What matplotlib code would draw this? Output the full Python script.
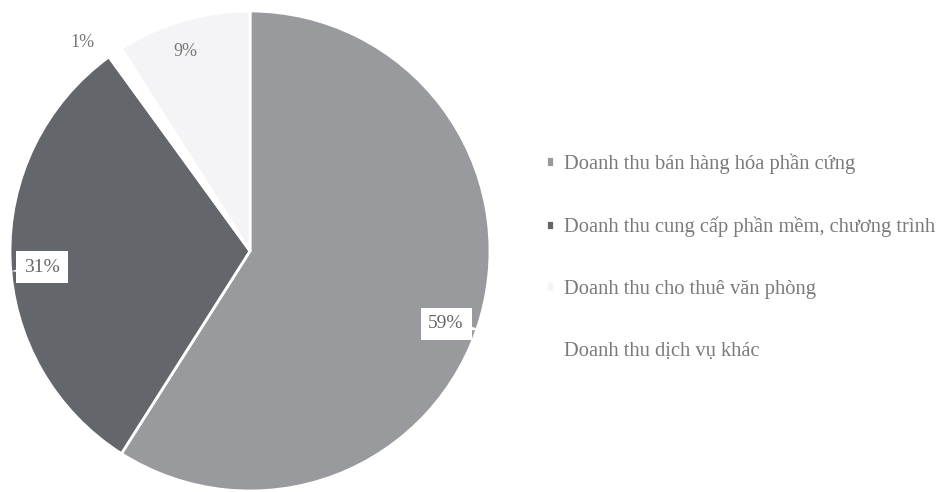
import matplotlib
matplotlib.use("Agg")
import matplotlib.pyplot as plt

categories = [
    "Doanh thu bán hàng hóa phần cứng",
    "Doanh thu cung cấp phần mềm, chương trình",
    "Doanh thu cho thuê văn phòng",
    "Doanh thu dịch vụ khác",
]
shares = [59, 31, 9, 1]
pct_labels = ["59%", "31%", "9%", "1%"]
colors = ["#999a9e", "#63666a", "#f4f4f6", "#ffffff"]
# order the slices are drawn clockwise from 12 o'clock
draw_order = [0, 1, 3, 2]

W, H = 944, 492
fig = plt.figure(figsize=(W / 100, H / 100), dpi=100)
fig.patch.set_facecolor("white")

# pie axes: centre ~ (250, 251) px, radius ~240 px
cx, cy, r = 250, 251, 240
ax = fig.add_axes([(cx - r) / W, 1 - (cy + r) / H, 2 * r / W, 2 * r / H])
wedges, _ = ax.pie([shares[i] for i in draw_order],
                   colors=[colors[i] for i in draw_order],
                   startangle=90, counterclock=False, radius=1.0,
                   wedgeprops=dict(edgecolor="white", linewidth=2.0))
ax.set_xlim(-1, 1)
ax.set_ylim(-1, 1)
ax.set_aspect("equal")
ax.axis("off")
handles = [None] * 4
for w, i in zip(wedges, draw_order):
    handles[i] = w

serif = ["Liberation Serif", "DejaVu Serif"]
label_pos = [(0.817, -0.304), (-0.867, -0.067), (-0.27, 0.83), (-0.70, 0.87)]
pointer = [(0.965, -0.33), (-0.995, -0.085), None, None]
for lab, (x, y), p in zip(pct_labels, label_pos, pointer):
    if p is not None:
        ax.annotate("", xy=p, xytext=(x, y),
                    arrowprops=dict(arrowstyle="wedge,tail_width=0.9,shrink_factor=0.5",
                                    fc="white", ec="none", shrinkA=0, shrinkB=0))
        ax.text(x, y, lab, ha="center", va="center", fontsize=14, color="#666666",
                family=serif,
                bbox=dict(boxstyle="square,pad=0.4", facecolor="white", edgecolor="none"))
    else:
        ax.text(x, y, lab, ha="center", va="center", fontsize=13, color="#777777",
                family=serif)

leg = fig.legend(handles, categories, loc="center left",
                 bbox_to_anchor=(527 / W, 1 - 257 / H), frameon=False,
                 prop={"family": serif, "size": 14.8},
                 labelspacing=2.08, handlelength=0.4, handleheight=0.4,
                 handletextpad=0.5, labelcolor="#7a7a7a")

fig.savefig("out.png", dpi=100, facecolor="white")
